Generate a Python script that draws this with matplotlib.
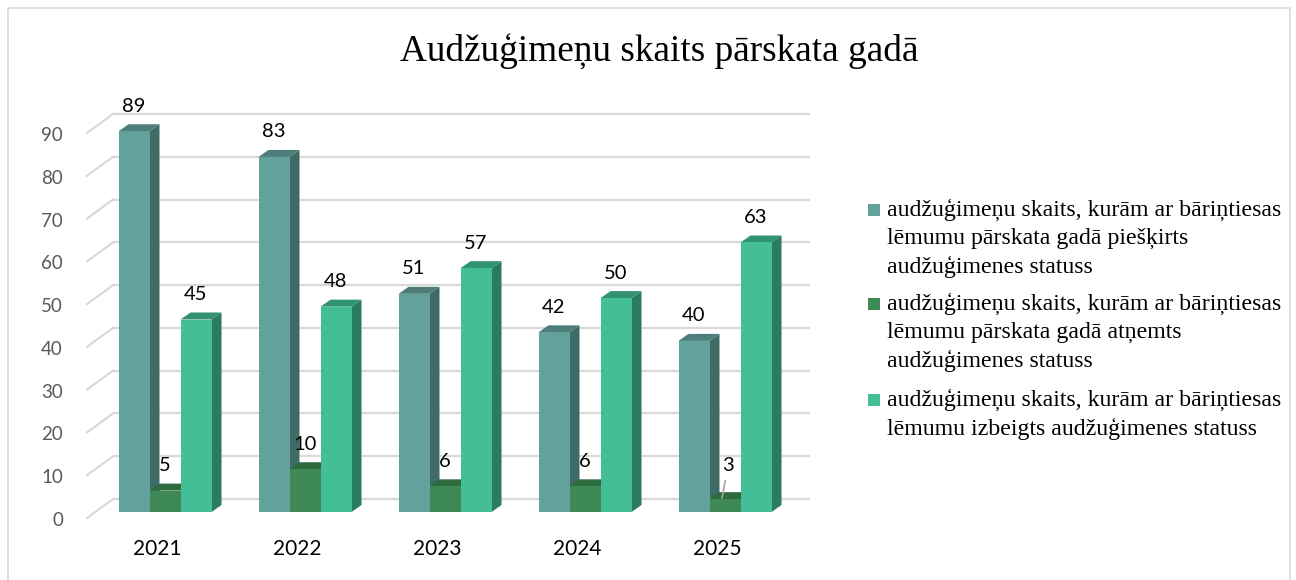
import matplotlib
matplotlib.use("Agg")
import matplotlib.pyplot as plt
from matplotlib.patches import Polygon, Rectangle

# ---- data ----
years = ["2021", "2022", "2023", "2024", "2025"]
granted = [89, 83, 51, 42, 40]
revoked = [5, 10, 6, 6, 3]
terminated = [45, 48, 57, 50, 63]
series_names = [
    "audžuģimeņu skaits, kurām ar bāriņtiesas\nlēmumu pārskata gadā piešķirts\naudžuģimenes statuss",
    "audžuģimeņu skaits, kurām ar bāriņtiesas\nlēmumu pārskata gadā atņemts\naudžuģimenes statuss",
    "audžuģimeņu skaits, kurām ar bāriņtiesas\nlēmumu izbeigts audžuģimenes statuss",
]
y_ticks = [0, 10, 20, 30, 40, 50, 60, 70, 80, 90]
title = "Audžuģimeņu skaits pārskata gadā"

# face colours per series: front, side, top
palette = [
    ("#63a19c", "#3f6b67", "#4d7e7a"),
    ("#3e8955", "#2c6a3f", "#2d6a3e"),
    ("#43be96", "#2b7b5f", "#31936f"),
]

W, H, DPI = 1296, 580, 100
fig = plt.figure(figsize=(W / DPI, H / DPI), dpi=DPI)
fig.patch.set_facecolor("white")

# chart border
fig.patches.append(Rectangle((8 / W, -0.02), 1282 / W, (580 - 8) / H + 0.02,
                             transform=fig.transFigure, fill=False,
                             edgecolor="#d9d9d9", linewidth=1.2))

AX_L, AX_W, AX_B, AX_H = 95, 700, 68, 385
ax = fig.add_axes([AX_L / W, AX_B / H, AX_W / W, AX_H / H])
ax.set_xlim(-0.5, len(years) - 0.5)
ax.set_ylim(0, 90)
ax.axis("off")

px_x = AX_W / len(years)
px_y = AX_H / 90.0


def ux(px):
    return px / px_x


def uy(px):
    return px / px_y


xl = -0.5
grid_c = "#d9d9d9"
# back wall and side wall grid
for v in y_ticks:
    ax.plot([xl + ux(18), xl + ux(715)], [v + uy(13), v + uy(13)],
            color=grid_c, lw=1.6, clip_on=False, zorder=0, solid_capstyle="butt")
    ax.plot([xl + ux(-8), xl + ux(18)], [v - uy(6), v + uy(13)],
            color=grid_c, lw=1.6, clip_on=False, zorder=0)
    ax.text(xl + ux(-32), v - uy(8.5), str(v), ha="right", va="center",
            fontsize=13.5, family="Lato", color="#595959")

bar_w = ux(31)
dep_x, dep_y = ux(10), uy(7)
series = [granted, revoked, terminated]

z = 2
for i, yr in enumerate(years):
    for s, vals in enumerate(series):
        v = vals[i]
        x0 = i + (s - 1) * bar_w - bar_w / 2
        x1 = x0 + bar_w
        front, side, top = palette[s]
        ax.add_patch(Polygon([(x1, 0), (x1 + dep_x, dep_y), (x1 + dep_x, v + dep_y), (x1, v)],
                             closed=True, facecolor=side, edgecolor="none", zorder=z, clip_on=False))
        ax.add_patch(Polygon([(x0, v), (x1, v), (x1 + dep_x, v + dep_y), (x0 + dep_x, v + dep_y)],
                             closed=True, facecolor=top, edgecolor="none", zorder=z, clip_on=False))
        ax.add_patch(Rectangle((x0, 0), bar_w, v, facecolor=front, edgecolor="none",
                               zorder=z + 0.5, clip_on=False))
        z += 1
        xc = (x0 + x1) / 2
        if s == 1 and v < 5:
            # small value: label lifted with a leader line
            ax.annotate(str(v), xy=(xc - ux(3), v + uy(1)), xytext=(xc + ux(3), v + uy(34)),
                        ha="center", va="center", fontsize=14.5, family="Lato", color="black",
                        arrowprops=dict(arrowstyle="-", color="#a6a6a6", lw=1.2,
                                        shrinkA=3, shrinkB=0),
                        zorder=100)
        else:
            ax.text(xc, v + uy(25), str(v), ha="center", va="center",
                    fontsize=14.5, family="Lato", color="black", zorder=100)
    ax.text(i - ux(8), -uy(37), yr, ha="center", va="center", fontsize=15,
            family="Lato", color="black", clip_on=False)

fig.text(659 / W, 1 - 52 / H, title, ha="center", va="center",
         fontsize=26.8, family="Liberation Serif", color="black")

# legend
leg_y = [210, 304, 400]
for s, name in enumerate(series_names):
    fig.patches.append(Rectangle((868 / W, 1 - (leg_y[s] + 6) / H), 12 / W, 12 / H,
                                 transform=fig.transFigure, facecolor=palette[s][0],
                                 edgecolor="none"))
    for k, line in enumerate(name.split("\n")):
        fig.text(887 / W, 1 - (leg_y[s] + 28.5 * k) / H, line, ha="left", va="center",
                 fontsize=17.2, family="Liberation Serif", color="black")

fig.savefig("out.png", dpi=DPI)
